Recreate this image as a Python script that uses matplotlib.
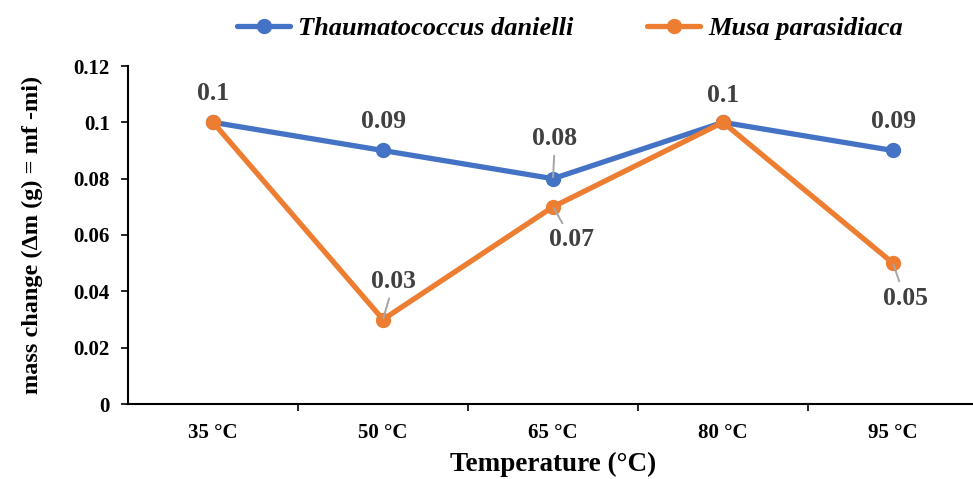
import matplotlib
matplotlib.use("Agg")
import matplotlib.pyplot as plt

categories = ["35 °C", "50 °C", "65 °C", "80 °C", "95 °C"]
thaumatococcus = [0.10, 0.09, 0.08, 0.10, 0.09]
musa = [0.10, 0.03, 0.07, 0.10, 0.05]
yticks = [0, 0.02, 0.04, 0.06, 0.08, 0.1, 0.12]
ytick_labels = ["0", "0.02", "0.04", "0.06", "0.08", "0.1", "0.12"]

plt.rcParams['font.family'] = ['Liberation Serif', 'DejaVu Serif']

W, H = 973, 479
fig = plt.figure(figsize=(W / 100, H / 100), dpi=100)
ax = fig.add_axes([128 / W, (H - 404) / H, (978 - 128) / W, (404 - 66) / H])

blue = "#4472C4"
orange = "#ED7D31"
lab = "#404040"
x = list(range(len(categories)))

ax.plot(x, thaumatococcus, color=blue, lw=3.8, marker='o', ms=10,
        label="Thaumatococcus danielli", solid_capstyle='round', zorder=3)
ax.plot(x, musa, color=orange, lw=3.8, marker='o', ms=10,
        label="Musa parasidiaca", solid_capstyle='round', zorder=4)

ax.set_xlim(-0.5, 4.5)
ax.set_ylim(0, 0.12)
ax.set_yticks(yticks)
ax.set_yticklabels(ytick_labels)
ax.set_xticks(x)
ax.set_xticklabels(categories)
ax.set_xticks([0.5, 1.5, 2.5, 3.5], minor=True)
ax.tick_params(axis='x', which='major', length=0, pad=14)
ax.tick_params(axis='x', which='minor', length=5, width=1.2, direction='out')
ax.tick_params(axis='y', length=5, width=1.2, direction='out', pad=8)
for t in ax.get_xticklabels() + ax.get_yticklabels():
    t.set_fontsize(15)
    t.set_fontweight('bold')
for s in ['top', 'right']:
    ax.spines[s].set_visible(False)
for s in ['left', 'bottom']:
    ax.spines[s].set_linewidth(1.5)

ax.set_ylabel("mass change (\u0394m (g) = mf -mi)", fontsize=17.5, fontweight='bold', labelpad=22)
ax.set_xlabel("Temperature (°C)", fontsize=19.5, fontweight='bold', labelpad=6)

def px2pt(v):
    return v * 72 / 100

# data labels: (series, index, label offset in pixels, leader?)
labels = [
    (thaumatococcus, 0, (0, 29), False),
    (thaumatococcus, 1, (0, 29), False),
    (thaumatococcus, 2, (2, 40), True),
    (thaumatococcus, 3, (0, 27), False),
    (thaumatococcus, 4, (0, 29), False),
    (musa, 1, (11, 38), True),
    (musa, 2, (19, -33), True),
    (musa, 4, (12, -35), True),
]
for series, i, (dx, dy), leader in labels:
    kw = {}
    if leader:
        kw['arrowprops'] = dict(arrowstyle='-', color='#A6A6A6', lw=1.4,
                                shrinkA=2, shrinkB=1)
    ax.annotate(f"{series[i]:g}", xy=(i, series[i]),
                xytext=(px2pt(dx), px2pt(dy)), textcoords='offset points',
                ha='center', va='center', fontsize=18.5, fontweight='bold',
                color=lab, zorder=6, **kw)

leg = fig.legend(loc='center', bbox_to_anchor=(570 / W, (H - 28) / H), ncol=2,
                 frameon=False, prop={'style': 'italic', 'weight': 'bold', 'size': 19},
                 handlelength=2.0, columnspacing=2.8, handletextpad=0.3)

fig.savefig("out.png", dpi=100)
